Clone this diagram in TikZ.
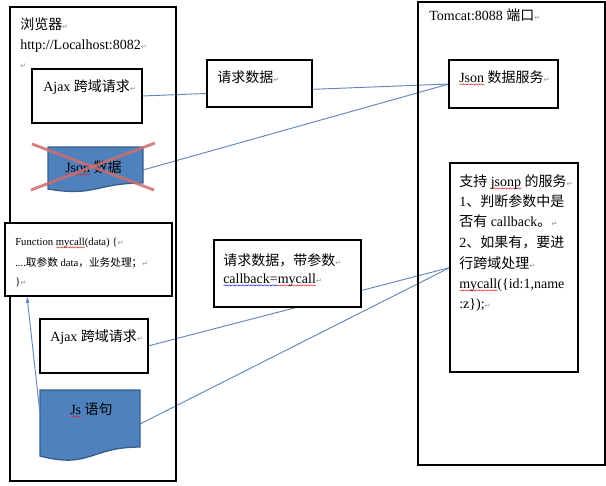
\documentclass[tikz,border=0pt]{standalone}
\usepackage{fontspec}
\setmainfont{Liberation Serif}
\newfontfamily\cjk{Noto Sans CJK SC}
\newfontfamily\symf{DejaVu Sans}
\usetikzlibrary{arrows.meta,decorations.pathmorphing}
\pgfdeclarelayer{bg}
\pgfsetlayers{bg,main}
\definecolor{shapefill}{RGB}{79,129,189}
\definecolor{shapeedge}{RGB}{56,93,138}
\definecolor{conn}{RGB}{95,135,185}
\definecolor{crossc}{RGB}{205,110,110}
\definecolor{pmgray}{RGB}{150,150,150}
\definecolor{sqred}{RGB}{220,40,40}
\definecolor{sqblue}{RGB}{40,40,220}
\newcommand\pmk{{\symf\fontsize{5.5}{6}\selectfont\textcolor{pmgray}{↵}}}
\newlength\sqw
\newsavebox\sqbox
\newcommand\squig[2][sqred]{\sbox\sqbox{#2}\setlength\sqw{\wd\sqbox}\rlap{\tikz[baseline=0pt]\draw[#1,line width=0.35pt,decorate,decoration={snake,amplitude=0.45pt,segment length=2pt}] (0pt,-1.8pt) -- (\sqw,-1.8pt);}\usebox\sqbox}
\newcommand\bx[5]{\node[box, minimum width=#4*0.75pt, minimum height=#5*0.75pt] (#1) at (#2,#3) {};}
\tikzset{
  box/.style={draw, fill=white, line width=0.8pt, inner sep=0pt, outer sep=0pt, anchor=north west},
  bigbox/.style={box, fill=none},
  txt/.style={inner sep=0pt, anchor=base west, font=\fontsize{10.5}{12}\selectfont},
  small/.style={txt, font=\fontsize{8}{9}\selectfont},
  conline/.style={draw=conn, line width=0.7pt},
  docshape/.style={fill=shapefill, draw=shapeedge, line width=1pt},
  crossline/.style={draw=crossc, line width=2.2pt, opacity=0.85},
}
\begin{document}
\begin{tikzpicture}[x=0.75pt, y=-0.75pt]
\useasboundingbox (0,0) rectangle (606,485);
% big boxes
\node[bigbox, minimum width=166*0.75pt, minimum height=474*0.75pt] (browser) at (10,7) {};
\node[bigbox, minimum width=187*0.75pt, minimum height=463*0.75pt] (tomcat) at (418,2) {};
% inner boxes
\bx{ajaxA}{32}{69}{110}{54}
\bx{reqA}{207}{60}{105}{47}
\bx{jsonsvc}{449}{60}{109}{48}
\bx{func}{5}{223}{167}{73}
\bx{ajaxB}{40}{319}{108}{54}
\bx{reqB}{214}{240}{147}{67}
\bx{jsonp}{450}{163}{128}{209}
% document shapes
\draw[docshape] (48,147) -- (143,147) -- (143,183) .. controls (95.5,183) and (95.5,197) .. (48,189) -- cycle;
\draw[docshape] (40,390) -- (140,390) -- (140,447) .. controls (90,447) and (90,469) .. (40,456) -- cycle;
\coordinate (jsonshape) at (143,170);
\coordinate (jsright) at (140,424);
\coordinate (jsleft) at (40,414);
\coordinate (functarget) at ([xshift=16.5pt]func.south west);
% texts
\node[txt] (tb1) at (20,30) {{\cjk 浏览器}\pmk};
\node[txt] (tb2) at (20,50) {http://Localhost:8082\pmk};
\node[txt] (tb3) at (20,69) {\pmk};
\node[txt] (tt1) at (429,21) {Tomcat:8088 {\cjk 端口}\pmk};
\node[txt] (ta1) at (43,91) {Ajax {\cjk 跨域请求}\pmk};
\node[txt] (tr1) at (217,82) {{\cjk 请求数据}\pmk};
\node[txt] (ts1) at (459,82) {\squig{Json} {\cjk 数据服务}\pmk};
\node[txt] (tj1) at (65,172) {\squig{Json} {\cjk 数据}};
\node[small] (tf1) at (15,245) {Function \squig{mycall}(data) \{\pmk};
\node[small] (tf2) at (15,266) {....{\cjk 取参数} data{\cjk ，业务处理；}\pmk};
\node[small] (tf3) at (15,285) {\}\pmk};
\node[txt] (tq1) at (223,265) {{\cjk 请求数据，带参数}\pmk};
\node[txt] (tq2) at (223,283) {\squig[sqblue]{callback=}\squig{mycall}\pmk};
\node[txt] (tb4) at (50,341) {Ajax {\cjk 跨域请求}\pmk};
\node[txt] (tjs) at (70,414) {\squig{Js} {\cjk 语句}};
\node[txt] (tp1) at (459,186) {{\cjk 支持} \squig{jsonp} {\cjk 的服务}\pmk};
\node[txt] (tp2) at (459,206) {1{\cjk 、判断参数中是}};
\node[txt] (tp3) at (459,226) {{\cjk 否有} callback{\cjk 。}\pmk};
\node[txt] (tp4) at (459,247) {2{\cjk 、如果有，要进}};
\node[txt] (tp5) at (459,268) {{\cjk 行跨域处理}\pmk};
\node[txt] (tp6) at (459,288) {\squig{mycall}(\{id:1,name};
\node[txt] (tp7) at (459,308) {:z\});\pmk};
% red cross over Json shape
\draw[crossline] (32,144) -- (154,190);
\draw[crossline] (31,190) -- (155,143);
% connectors behind the boxes
\begin{pgfonlayer}{bg}
\draw[conline] (ajaxA.east) -- (jsonsvc.west);
\draw[conline] (jsonshape) -- (jsonsvc.west);
\draw[conline] (ajaxB.east) -- (jsonp.west);
\draw[conline] (jsright) -- (jsonp.west);
\end{pgfonlayer}
\draw[conline, -{Latex[length=5pt,width=3pt]}] (jsleft) -- (functarget);
\end{tikzpicture}
\end{document}
